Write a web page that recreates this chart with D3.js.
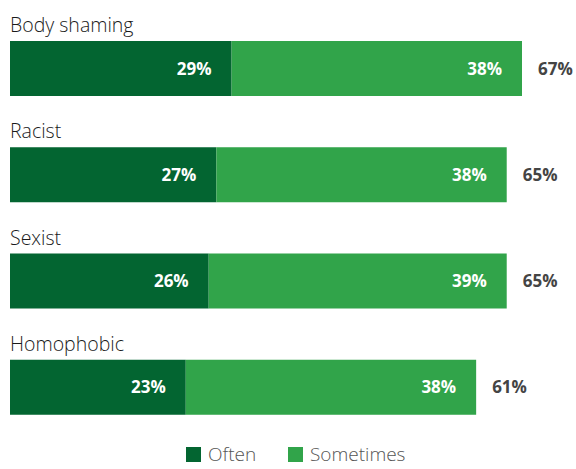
<!DOCTYPE html>
<html>
<head>
<meta charset="utf-8">
<script src="https://cdn.jsdelivr.net/npm/d3@7"></script>
<style>
  body { margin: 0; background: #fff; }
  svg text { font-family: "Open Sans", sans-serif; }
</style>
</head>
<body>
<div id="chart"></div>
<script>
const categories = ["Body shaming", "Racist", "Sexist", "Homophobic"];
const often = [29, 27, 26, 23];
const sometimes = [38, 38, 39, 38];
const totals = [67, 65, 65, 61];
const seriesNames = ["Often", "Sometimes"];
const colors = ["#036531", "#31a44a"];

const width = 576, height = 469;
const svg = d3.select("#chart").append("svg")
    .attr("width", width)
    .attr("height", height);

const x = d3.scaleLinear().domain([0, 67]).range([10, 522]);
const y = d3.scaleBand().domain(categories).range([24, 449]);
const barH = 55;
const barOffset = 17;

const data = categories.map((c, i) => ({ cat: c, vals: [often[i], sometimes[i]], total: totals[i] }));

const groups = svg.selectAll(".row")
    .data(data)
    .enter().append("g")
    .attr("class", "row")
    .attr("transform", d => `translate(0,${y(d.cat)})`);

groups.append("text")
    .attr("x", 10)
    .attr("y", 8)
    .style("font-size", "19.5px")
    .style("font-weight", "300")
    .style("fill", "#1a1a1a")
    .text(d => d.cat);

groups.each(function(d) {
    const g = d3.select(this);
    let start = 0;
    d.vals.forEach((v, j) => {
        g.append("rect")
            .attr("x", x(start))
            .attr("y", barOffset)
            .attr("width", x(start + v) - x(start))
            .attr("height", barH)
            .attr("fill", colors[j]);
        g.append("text")
            .attr("x", x(start + v) - 20)
            .attr("y", barOffset + barH / 2)
            .attr("dy", "0.36em")
            .attr("text-anchor", "end")
            .style("font-size", "17px")
            .style("font-weight", "bold")
            .style("fill", "#fff")
            .text(v + "%");
        start += v;
    });
    g.append("text")
        .attr("x", x(d.total) + 16)
        .attr("y", barOffset + barH / 2)
        .attr("dy", "0.36em")
        .style("font-size", "17px")
        .style("font-weight", "bold")
        .style("fill", "#444")
        .text(d.total + "%");
});

const legend = svg.append("g").attr("transform", "translate(0,447)");
const legX = [186, 288];
seriesNames.forEach((s, i) => {
    legend.append("rect")
        .attr("x", legX[i])
        .attr("y", 0)
        .attr("width", 15)
        .attr("height", 15)
        .attr("fill", colors[i]);
    legend.append("text")
        .attr("x", legX[i] + 22)
        .attr("y", 14)
        .style("font-size", "19px")
        .style("font-weight", "300")
        .style("fill", "#555")
        .text(s);
});
</script>
</body>
</html>
